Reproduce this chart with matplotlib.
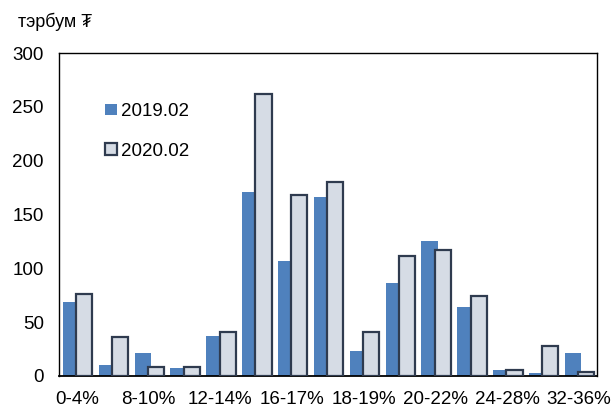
import numpy as np
import matplotlib
matplotlib.use("Agg")
import matplotlib.pyplot as plt

plt.rcParams['font.family'] = ['Liberation Sans', 'DejaVu Sans']

# interest rate buckets (only every other one is labelled on the axis)
buckets = ['0-4%', '4-8%', '8-10%', '10-12%', '12-14%', '14-16%', '16-17%', '17-18%',
           '18-19%', '19-20%', '20-22%', '22-24%', '24-28%', '28-32%', '32-36%']
v2019 = [69, 10, 21, 7, 37, 171, 107, 166, 23, 86, 125, 64, 6, 3, 21]
v2020 = [76, 36, 8.5, 8.5, 41, 262, 168, 180, 41, 111, 117, 74, 6, 28, 4]

blue = '#4F81BD'
grey_fill = '#D6DCE5'
grey_edge = '#2F3B4F'

fig = plt.figure(figsize=(6.11, 4.09), dpi=100)
ax = fig.add_axes([0.0966, 0.0807, 0.8805, 0.7897])

x = np.arange(len(buckets))
w = 0.45
ax.bar(x - 0.17, v2019, w, color=blue, label='2019.02', zorder=2)
ax.bar(x + 0.20, v2020, w, color=grey_fill, edgecolor=grey_edge, linewidth=1.6,
       label='2020.02', zorder=3)

ax.set_xlim(-0.5, len(buckets) - 0.5)
ax.set_ylim(0, 300)
ax.set_yticks([0, 50, 100, 150, 200, 250, 300])
ax.set_xticks(x[::2])
ax.set_xticklabels(buckets[::2])
ax.tick_params(axis='y', length=0, pad=11, labelsize=13.5)
ax.tick_params(axis='x', length=0, pad=11, labelsize=13.5)
for s in ax.spines.values():
    s.set_color('black')
    s.set_linewidth(1.0)
ax.spines['bottom'].set_linewidth(1.3)

fig.text(0.0295, 0.946, 'тэрбум ₮', fontsize=13, ha='left', va='center')

ax.legend(loc='upper left', bbox_to_anchor=(0.072, 0.868), frameon=False,
          fontsize=13.5, handlelength=0.6, handleheight=0.6, handletextpad=0.25,
          labelspacing=1.2, borderaxespad=0)

fig.savefig('out.png', dpi=100)
